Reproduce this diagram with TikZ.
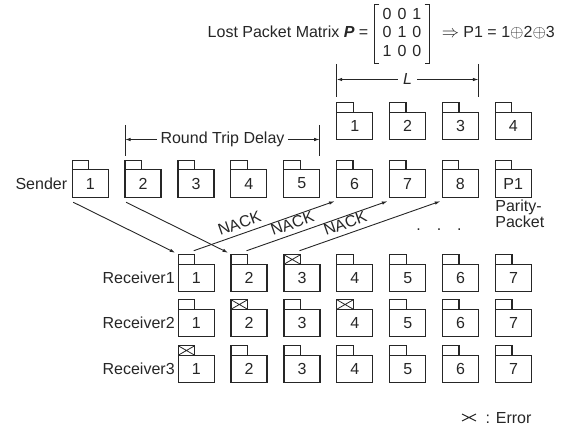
\documentclass[tikz,border=0pt]{standalone}
\usepackage{fontspec}
\setmainfont{Liberation Sans}
\usepackage{amsmath}
\usetikzlibrary{arrows.meta,positioning,calc}
\definecolor{ink}{HTML}{262626}
\newcommand{\pktfont}{\fontsize{16}{18.5}\selectfont}
\tikzset{
  pktbox/.style={rectangle,draw=ink,line width=1.2pt,fill=white,text=ink,
    font=\pktfont,minimum width=36pt,minimum height=27.5pt,inner sep=0pt,outer sep=0pt},
  pkttab/.style={rectangle,draw=ink,line width=1.2pt,minimum width=16.5pt,
    minimum height=9.5pt,inner sep=0pt,outer sep=0pt,anchor=south west},
  losttab/.style={pkttab,path picture={\draw[ink,line width=0.8pt]
    (path picture bounding box.north west) -- (path picture bounding box.south east)
    (path picture bounding box.south west) -- (path picture bounding box.north east);}},
  pktarr/.style={-{Latex[length=5.5pt,width=3.5pt]},line width=0.9pt,color=ink},
  spanline/.style={line width=1pt,color=ink},
  matbracket/.style={line width=1.3pt,color=ink},
  pktlabel/.style={font=\pktfont,text=ink},
  mathtext/.style={pktlabel,inner sep=0pt,text height=12.95pt,text depth=5.55pt},
}

\begin{document}
\begin{tikzpicture}[x=1pt,y=-1pt]
  \useasboundingbox (0,0) rectangle (571,427);

  % lost packet matrix
  \node[pktlabel,inner sep=0pt] (pmat) at (402,34)
    {\begin{tabular}{@{}c@{\hspace{6pt}}c@{\hspace{6pt}}c@{}}0&0&1\\0&1&0\\1&0&0\end{tabular}};
  \draw[matbracket] ([shift={(-3pt,1.5pt)}]pmat.north west) -- ([shift={(-8pt,1.5pt)}]pmat.north west)
    -- ([shift={(-8pt,-1.5pt)}]pmat.south west) -- ([shift={(-3pt,-1.5pt)}]pmat.south west);
  \draw[matbracket] ([shift={(3pt,1.5pt)}]pmat.north east) -- ([shift={(8pt,1.5pt)}]pmat.north east)
    -- ([shift={(8pt,-1.5pt)}]pmat.south east) -- ([shift={(3pt,-1.5pt)}]pmat.south east);
  \node[mathtext,left=14pt of pmat] (ptitle) {Lost Packet Matrix \textbf{\textit{P}} =};
  \node[mathtext,right=20pt of pmat] (pxor) {$\Rightarrow$ P1 = 1$\oplus$2$\oplus$3};

  % packets waiting for the parity block
  \foreach \i in {1,...,4} {
    \node[pktbox] (t\i) at ({354.7+52.875*(\i-1)},126) {\i};
    \node[pkttab] (t\i-tab) at (t\i.north west) {};
  }

  % sender
  \foreach \i in {1,...,8} {
    \node[pktbox] (s\i) at ({90.2+52.875*(\i-1)},183.5) {\i};
    \node[pkttab] (s\i-tab) at (s\i.north west) {};
  }
  \node[pktbox] (sP) at (513.2,183.5) {P1};
  \node[pkttab] (sP-tab) at (sP.north west) {};
  \node[pktlabel,left=1.5pt of s1] (sender) {Sender};
  \node[pktlabel,anchor=north west,align=left,inner sep=0pt,
    font=\fontsize{16}{14.5}\selectfont] (parity) at ([yshift=-2.5pt]sP.south west) {Parity-\\Packet};
  \node[pktlabel] (dots) at (439,230) {.\quad.\quad.};

  % receivers
  \foreach \j/\ts in {1/pkttab,2/pkttab,3/losttab,4/pkttab,5/pkttab,6/pkttab,7/pkttab} {
    \node[pktbox] (ra\j) at ({196.2+52.875*(\j-1)},278) {\j};
    \node[\ts] (ra\j-tab) at (ra\j.north west) {};
  }
  \foreach \j/\ts in {1/pkttab,2/losttab,3/pkttab,4/losttab,5/pkttab,6/pkttab,7/pkttab} {
    \node[pktbox] (rb\j) at ({196.2+52.875*(\j-1)},323) {\j};
    \node[\ts] (rb\j-tab) at (rb\j.north west) {};
  }
  \foreach \j/\ts in {1/losttab,2/pkttab,3/pkttab,4/pkttab,5/pkttab,6/pkttab,7/pkttab} {
    \node[pktbox] (rc\j) at ({196.2+52.875*(\j-1)},369) {\j};
    \node[\ts] (rc\j-tab) at (rc\j.north west) {};
  }
  \node[pktlabel,left=0pt of ra1] (recv1) {Receiver1};
  \node[pktlabel,left=0pt of rb1] (recv2) {Receiver2};
  \node[pktlabel,left=0pt of rc1] (recv3) {Receiver3};

  % round trip delay
  \node[pktlabel] (rtd) at (222.5,139.5) {Round Trip Delay};
  \coordinate (rtdL) at (s2.west |- rtd);
  \coordinate (rtdR) at (s5.east |- rtd);
  \draw[pktarr] (rtd) -- (rtdL);
  \draw[pktarr] (rtd) -- (rtdR);
  \draw[spanline] ([yshift=14.5pt]rtdL) -- ([yshift=-16.5pt]rtdL);
  \draw[spanline] ([yshift=14.5pt]rtdR) -- ([yshift=-16.5pt]rtdR);

  % block length L
  \node[pktlabel,font=\pktfont\itshape,inner sep=5pt] (lspan) at (407.5,79.5) {L};
  \coordinate (lspanL) at (t1.west |- lspan);
  \coordinate (lspanR) at (t3.east |- lspan);
  \draw[pktarr] (lspan) -- (lspanL);
  \draw[pktarr] (lspan) -- (lspanR);
  \draw[spanline] ([yshift=15.5pt]lspanL) -- ([yshift=-17.5pt]lspanL);
  \draw[spanline] ([yshift=15.5pt]lspanR) -- ([yshift=-17.5pt]lspanR);

  % transmissions
  \draw[pktarr] ([shift={(1pt,-5pt)}]s1.south west) -- ([shift={(-3pt,2pt)}]ra1-tab.north west);
  \draw[pktarr] ([shift={(1pt,-5pt)}]s2.south west) -- ([shift={(-3pt,2pt)}]ra2-tab.north west);
  \draw[pktarr] ([shift={(-1pt,4pt)}]ra1-tab.north east) --
    node[pktlabel,sloped,above,pos=0.35,inner sep=4.5pt]{NACK} ([shift={(-2pt,-4pt)}]s6.south west);
  \draw[pktarr] ([shift={(-1pt,4pt)}]ra2-tab.north east) --
    node[pktlabel,sloped,above,pos=0.35,inner sep=4.5pt]{NACK} ([shift={(-2pt,-4pt)}]s7.south west);
  \draw[pktarr] ([shift={(-1pt,4pt)}]ra3-tab.north east) --
    node[pktlabel,sloped,above,pos=0.35,inner sep=4.5pt]{NACK} ([shift={(-2pt,-4pt)}]s8.south west);

  % legend
  \node[pktlabel,anchor=west] (errlab) at (482,418) {: Error};
  \draw[spanline] ([shift={(-20pt,4pt)}]errlab.west) -- ([shift={(-6pt,-3pt)}]errlab.west)
    ([shift={(-20pt,-3pt)}]errlab.west) -- ([shift={(-6pt,4pt)}]errlab.west);
\end{tikzpicture}
\end{document}
